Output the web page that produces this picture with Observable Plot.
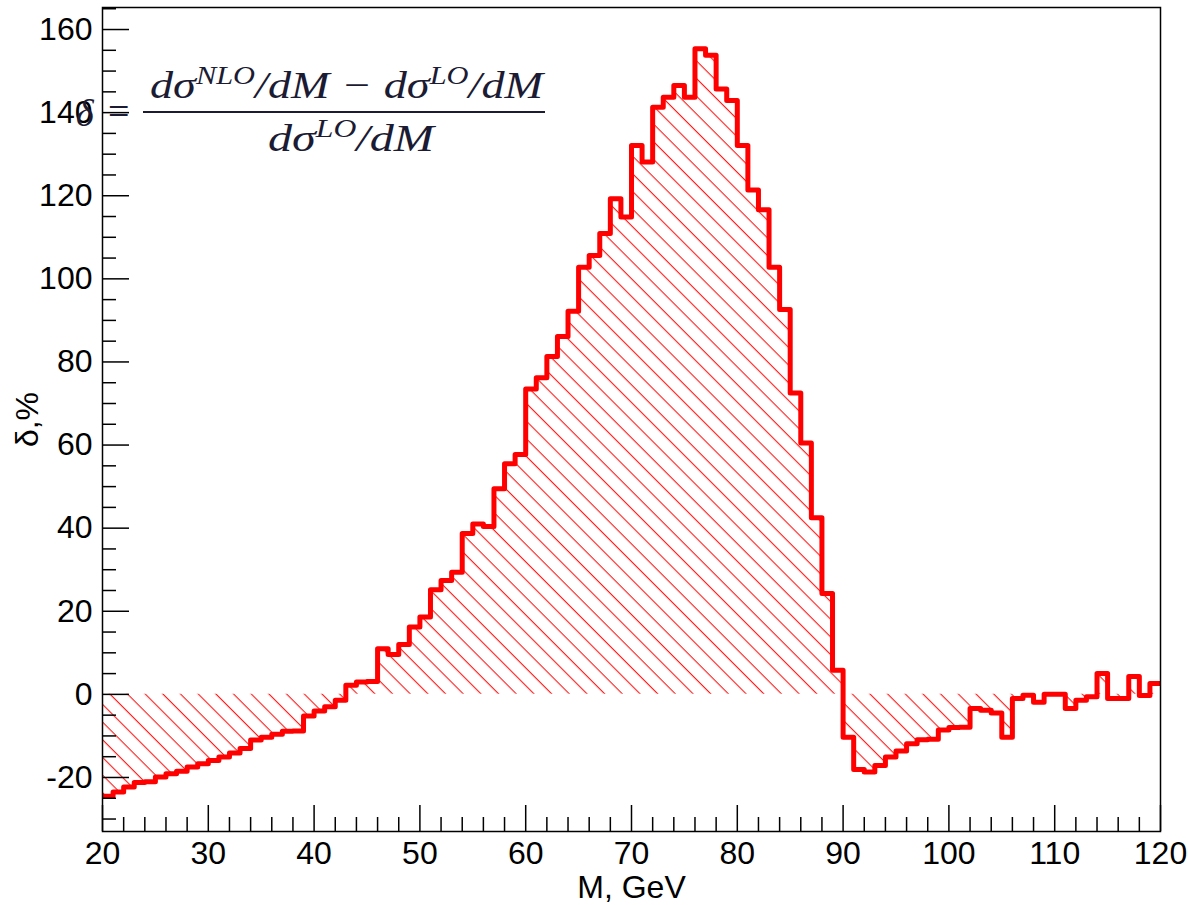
<!DOCTYPE html>
<html><head><meta charset="utf-8">
<script src="https://cdn.jsdelivr.net/npm/d3@7"></script>
<script src="https://cdn.jsdelivr.net/npm/@observablehq/plot@0.6"></script>
<style>
html,body{margin:0;padding:0;background:#fff;}
#chart{position:relative;width:1188px;height:905px;}
</style></head><body><div id="chart"></div>
<script>
// Lower edges of the 1 GeV mass bins
const massLow = [20,21,22,23,24,25,26,27,28,29,30,31,32,33,34,35,36,37,38,39,
  40,41,42,43,44,45,46,47,48,49,50,51,52,53,54,55,56,57,58,59,
  60,61,62,63,64,65,66,67,68,69,70,71,72,73,74,75,76,77,78,79,
  80,81,82,83,84,85,86,87,88,89,90,91,92,93,94,95,96,97,98,99,
  100,101,102,103,104,105,106,107,108,109,110,111,112,113,114,115,116,117,118,119];
const massHigh = 120;
// delta, % per bin
const delta = [-24.5,-23.5,-22.3,-21.2,-21.0,-19.9,-19.1,-18.5,-17.5,-16.7,
  -15.9,-15.1,-14.1,-13.0,-11.0,-10.3,-9.6,-8.9,-8.8,-5.2,
  -4.0,-3.0,-1.4,2.2,3.0,3.1,11.0,9.6,12.0,16.2,
  18.6,25.2,27.4,29.4,38.7,41.0,40.4,49.5,55.5,57.7,
  73.5,76.2,81.3,86.1,92.2,102.8,105.6,110.9,119.3,114.9,
  132.1,128.1,141.3,143.7,146.5,143.7,155.4,153.8,145.7,142.9,
  132.1,121.4,116.6,102.8,92.6,72.5,60.5,42.5,24.3,5.8,
  -10.3,-18.1,-18.7,-17.1,-15.1,-13.6,-11.9,-10.9,-10.8,-8.6,
  -8.0,-7.9,-3.4,-3.8,-4.5,-10.3,-1.0,-0.2,-1.9,0.0,
  0.0,-3.4,-1.4,-0.6,5.0,-1.0,-1.0,4.3,-0.3,2.6];
const majorX = [20,30,40,50,60,70,80,90,100,110,120];
const minorX = [22,24,26,28,32,34,36,38,42,44,46,48,52,54,56,58,62,64,66,68,72,74,76,78,82,84,86,88,92,94,96,98,102,104,106,108,112,114,116,118];
const majorY = [-20,0,20,40,60,80,100,120,140,160];
const minorY = [-30,-25,-15,-10,-5,5,10,15,25,30,35,45,50,55,65,70,75,85,90,95,105,110,115,125,130,135,145,150,155,165];
const xTitle = "M, GeV";
const yTitle = "δ,%";

const steps = massLow.map((m, i) => ({m, d: delta[i]}));
steps.push({m: massHigh, d: delta[delta.length - 1]});

const svg = Plot.plot({
  width: 1188, height: 905,
  marginLeft: 102, marginRight: 28, marginTop: 7, marginBottom: 74,
  x: {domain: [20, 120]},
  y: {domain: [-33, 165.3]},
  style: {fontFamily: "'Liberation Sans', Arial, sans-serif", fontSize: "32px", color: "black", background: "white"},
  marks: [
    Plot.areaY(steps, {x: "m", y1: 0, y2: "d", curve: "step-after", fill: "url(#hatch)"}),
    Plot.lineY(steps, {x: "m", y: "d", curve: "step-after", stroke: "#ff0000", strokeWidth: 5, clip: true}),
    Plot.axisX(minorX, {tickSize: -14, tickFormat: () => "", label: null, strokeWidth: 1.5}),
    Plot.axisX(majorX, {tickSize: -26, tickPadding: 36, label: null, strokeWidth: 1.5, tickFormat: d => String(d)}),
    Plot.axisY(minorY, {tickSize: -14, tickFormat: () => "", label: null, strokeWidth: 1.5}),
    Plot.axisY(majorY, {tickSize: -27, tickPadding: 37, label: null, strokeWidth: 1.5, tickFormat: d => String(d)}),
    Plot.text([xTitle], {frameAnchor: "bottom", dy: 56, text: d => d, fontSize: 32, textAnchor: "middle", lineAnchor: "middle"}),
    Plot.text([yTitle], {frameAnchor: "left", dx: -75, rotate: -90, text: d => d, fontSize: 32, textAnchor: "middle", lineAnchor: "middle"}),
    Plot.frame({stroke: "black", strokeWidth: 1.5})
  ]
});

d3.select(svg).insert("defs", ":first-child").html(
  '<pattern id="hatch" patternUnits="userSpaceOnUse" width="12.5" height="12.5" patternTransform="rotate(45)">' +
  '<line x1="0" y1="0.6" x2="12.5" y2="0.6" stroke="#ff0000" stroke-width="1"/></pattern>');

// formula annotation
const g = d3.select(svg).append("g")
  .attr("fill", "#1b1b33")
  .attr("text-anchor", "start")
  .attr("font-family", "'Liberation Serif', 'DejaVu Serif', serif")
  .attr("font-style", "italic");
g.append("text").attr("x", 76).attr("y", 126).attr("font-size", 38).text("δ");
g.append("text").attr("x", 108).attr("y", 124).attr("font-size", 38).attr("font-style", "normal").text("=");
const num = g.append("text").attr("x", 150).attr("y", 98).attr("font-size", 38)
  .attr("textLength", 393).attr("lengthAdjust", "spacingAndGlyphs");
num.append("tspan").text("dσ");
num.append("tspan").attr("dy", -14).attr("font-size", 25).text("NLO");
num.append("tspan").attr("dy", 14).text("/dM \u2212 dσ");
num.append("tspan").attr("dy", -14).attr("font-size", 25).text("LO");
num.append("tspan").attr("dy", 14).text("/dM");
g.append("line").attr("x1", 143).attr("x2", 545).attr("y1", 112).attr("y2", 112)
  .attr("stroke", "#1b1b33").attr("stroke-width", 2);
const den = g.append("text").attr("x", 268).attr("y", 151).attr("font-size", 38)
  .attr("textLength", 166).attr("lengthAdjust", "spacingAndGlyphs");
den.append("tspan").text("dσ");
den.append("tspan").attr("dy", -14).attr("font-size", 25).text("LO");
den.append("tspan").attr("dy", 14).text("/dM");

document.getElementById("chart").appendChild(svg);
</script></body></html>
